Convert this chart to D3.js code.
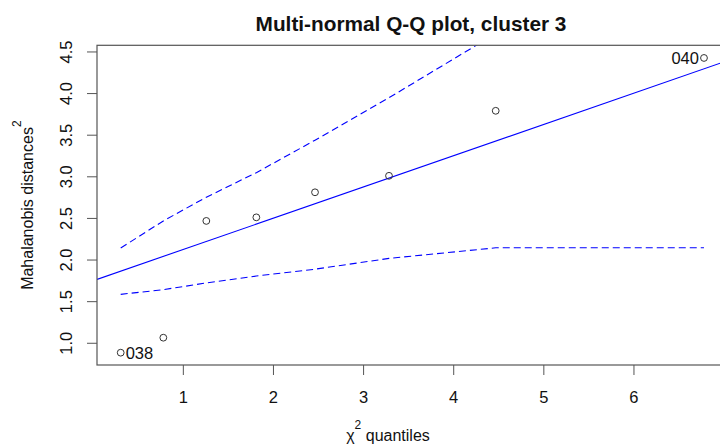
<!DOCTYPE html>
<html><head><meta charset="utf-8">
<script src="https://cdn.jsdelivr.net/npm/d3@7"></script>
<style>
body{margin:0;background:#fff;}
text{font-family:"Liberation Sans",Arial,sans-serif;}
</style></head><body>
<svg id="c" width="720" height="446"></svg>
<script>
const quantiles = [0.305, 0.778, 1.255, 1.810, 2.461, 3.282, 4.466, 6.777];
const distances = [0.887, 1.067, 2.470, 2.513, 2.814, 3.012, 3.793, 4.428];
const pointLabels = ["038", "", "", "", "", "", "", "040"];
const upperEnv = [2.144, 2.470, 2.755, 3.050, 3.440, 3.950, 4.720, 6.4];
const lowerEnv = [1.588, 1.644, 1.725, 1.808, 1.890, 2.020, 2.147, 2.147];
const lineIntercept = 1.752, lineSlope = 0.3756;
const xTicks = [1, 2, 3, 4, 5, 6];
const yTicks = [1.0, 1.5, 2.0, 2.5, 3.0, 3.5, 4.0, 4.5];
const xDomain = [0.042, 6.988];
const yDomain = [0.739, 4.580];

const L = 97, R = 723, T = 45.3, B = 365;
const x = d3.scaleLinear().domain(xDomain).range([L, R]);
const y = d3.scaleLinear().domain(yDomain).range([B, T]);

const svg = d3.select("#c");
svg.append("defs").append("clipPath").attr("id","clip")
  .append("rect").attr("x", L).attr("y", T).attr("width", R-L).attr("height", B-T);

const g = svg.append("g").attr("clip-path","url(#clip)");
const blue = "#0000ff";

// fitted line
g.append("line")
  .attr("x1", x(xDomain[0])).attr("y1", y(lineIntercept + lineSlope*xDomain[0]))
  .attr("x2", x(xDomain[1])).attr("y2", y(lineIntercept + lineSlope*xDomain[1]))
  .attr("stroke", blue).attr("stroke-width", 1.1);

const ln = (arr) => d3.line().x((d,i)=>x(quantiles[i])).y(d=>y(d))(arr);
[upperEnv, lowerEnv].forEach(a => {
  g.append("path").attr("d", ln(a)).attr("fill","none")
   .attr("stroke", blue).attr("stroke-width", 1.1).attr("stroke-dasharray","7,4");
});

// points
g.selectAll("circle.p").data(quantiles).enter().append("circle")
  .attr("cx", d=>x(d)).attr("cy",(d,i)=>y(distances[i])).attr("r",3.4)
  .attr("fill","none").attr("stroke","#333").attr("stroke-width",1);

// point labels
quantiles.forEach((q,i)=>{
  if(!pointLabels[i]) return;
  const left = i === quantiles.length-1;
  svg.append("text").attr("x", x(q) + (left ? -5 : 5)).attr("y", y(distances[i]) + 6)
    .attr("text-anchor", left ? "end" : "start").attr("font-size", 16.5).attr("fill","#111")
    .text(pointLabels[i]);
});

// frame
svg.append("rect").attr("x", L).attr("y", T).attr("width", R-L).attr("height", B-T)
  .attr("fill","none").attr("stroke","#555").attr("stroke-width",1.2);

// x axis
const xa = svg.append("g");
xTicks.forEach(t=>{
  xa.append("line").attr("x1",x(t)).attr("x2",x(t)).attr("y1",B).attr("y2",B+10).attr("stroke","#555");
  xa.append("text").attr("x",x(t)).attr("y",B+38).attr("text-anchor","middle")
    .attr("font-size",16.5).attr("fill","#111").text(t);
});
// y axis
const ya = svg.append("g");
yTicks.forEach(t=>{
  ya.append("line").attr("x1",L-10).attr("x2",L).attr("y1",y(t)).attr("y2",y(t)).attr("stroke","#555");
  ya.append("text").attr("transform",`translate(${L-25},${y(t)}) rotate(-90)`)
    .attr("text-anchor","middle").attr("font-size",16.5).attr("fill","#111").text(t.toFixed(1));
});

// title
svg.append("text").attr("x",(L+R)/2 + 1).attr("y",31).attr("text-anchor","middle")
  .attr("font-size",20.8).attr("font-weight","bold").attr("fill","#111")
  .text("Multi-normal Q-Q plot, cluster 3");

// x label
const xl = svg.append("text").attr("x",388).attr("y",441).attr("text-anchor","middle")
  .attr("font-size",16).attr("fill","#111");
xl.append("tspan").text("χ");
xl.append("tspan").attr("dy",-12).attr("font-size",12).text("2");
xl.append("tspan").attr("dy",12).text(" quantiles");

// y label
const yl = svg.append("text").attr("transform",`translate(33,${(T+B)/2}) rotate(-90)`)
  .attr("text-anchor","middle").attr("font-size",16).attr("fill","#111");
yl.append("tspan").text("Mahalanobis distances");
yl.append("tspan").attr("dy",-12).attr("font-size",12).text("2");
</script>
</body></html>
